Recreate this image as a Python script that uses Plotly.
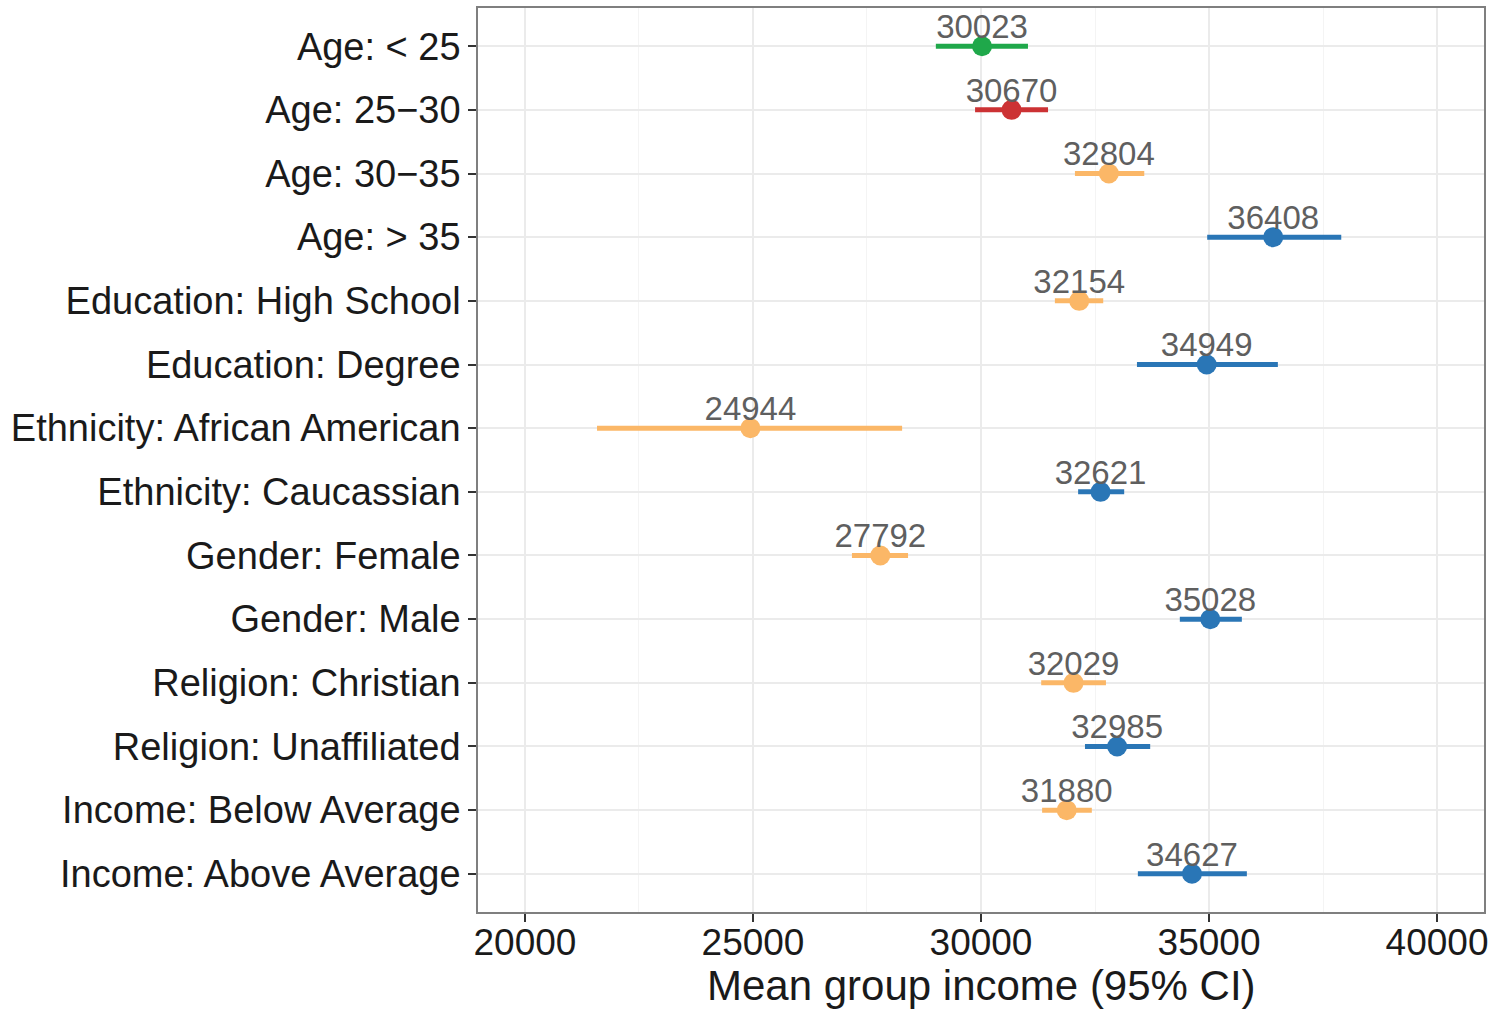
import plotly.graph_objects as go

categories = ["Age: < 25", "Age: 25\u221230", "Age: 30\u221235", "Age: > 35",
              "Education: High School", "Education: Degree",
              "Ethnicity: African American", "Ethnicity: Caucassian",
              "Gender: Female", "Gender: Male",
              "Religion: Christian", "Religion: Unaffiliated",
              "Income: Below Average", "Income: Above Average"]
means = [30023, 30670, 32804, 36408, 32154, 34949, 24944, 32621,
         27792, 35028, 32029, 32985, 31880, 34627]
ci_low = [29010, 29870, 32060, 34960, 31620, 33420, 21580, 32130,
          27170, 34360, 31320, 32280, 31340, 33440]
ci_high = [31030, 31470, 33580, 37900, 32680, 36510, 28270, 33140,
           28400, 35720, 32740, 33710, 32430, 35830]
groups = ["lowest", "low", "below", "above", "below", "above", "below", "above",
          "below", "above", "below", "above", "below", "above"]
x_ticks = [20000, 25000, 30000, 35000, 40000]
x_minor = [22500, 27500, 32500, 37500]
x_title = "Mean group income (95% CI)"

color_map = {"lowest": "#1fa84a", "low": "#cc3234", "below": "#fbb767", "above": "#2a76b6"}
FONT = "Liberation Sans, Arial, sans-serif"

fig = go.Figure()
for cat, m, lo, hi, g in zip(categories, means, ci_low, ci_high, groups):
    c = color_map[g]
    fig.add_trace(go.Scatter(
        x=[m], y=[cat], mode="markers",
        marker=dict(color=c, size=20),
        error_x=dict(type="data", symmetric=False, array=[hi - m], arrayminus=[m - lo],
                     color=c, thickness=5, width=0),
        showlegend=False, hoverinfo="skip", cliponaxis=False,
    ))

fig.add_trace(go.Scatter(
    x=means, y=categories, mode="text",
    text=[str(m) for m in means], textposition="top center",
    textfont=dict(family=FONT, size=33, color="#5f5f5f"),
    showlegend=False, hoverinfo="skip", cliponaxis=False,
))

fig.add_annotation(text=x_title, xref="paper", yref="paper", x=0.5, y=0,
                   xanchor="center", yanchor="middle", yshift=-73, showarrow=False,
                   font=dict(family=FONT, size=42, color="#1a1a1a"))

fig.update_layout(
    width=1495, height=1013,
    margin=dict(l=478, r=11, t=8, b=101, autoexpand=False),
    paper_bgcolor="white", plot_bgcolor="white",
    font=dict(family=FONT, color="#1a1a1a"),
    xaxis=dict(range=[18970, 41030], tickvals=x_ticks, ticktext=[str(v) for v in x_ticks],
               ticks="outside", ticklen=8, tickcolor="#333333", tickwidth=1.5,
               tickfont=dict(size=37, color="#1a1a1a"), ticklabelstandoff=-11,
               showgrid=True, gridcolor="#ebebeb", gridwidth=1.5,
               minor=dict(tickvals=x_minor, showgrid=True, gridcolor="#f4f4f4", gridwidth=1),
               showline=True, linecolor="#7f7f7f", linewidth=1.5, mirror=True,
               zeroline=False, automargin=False),
    yaxis=dict(type="category", categoryorder="array", categoryarray=categories,
               range=[13.6, -0.6], ticks="outside", ticklen=8, tickcolor="#333333",
               tickwidth=1.5, tickfont=dict(size=38, color="#1a1a1a"),
               showgrid=True, gridcolor="#ebebeb", gridwidth=1.5,
               showline=True, linecolor="#7f7f7f", linewidth=1.5, mirror=True,
               zeroline=False, automargin=False),
)

fig.write_html("out.html", config={"displayModeBar": False},
               post_script="document.body.style.margin='0';document.body.style.overflow='hidden';")
